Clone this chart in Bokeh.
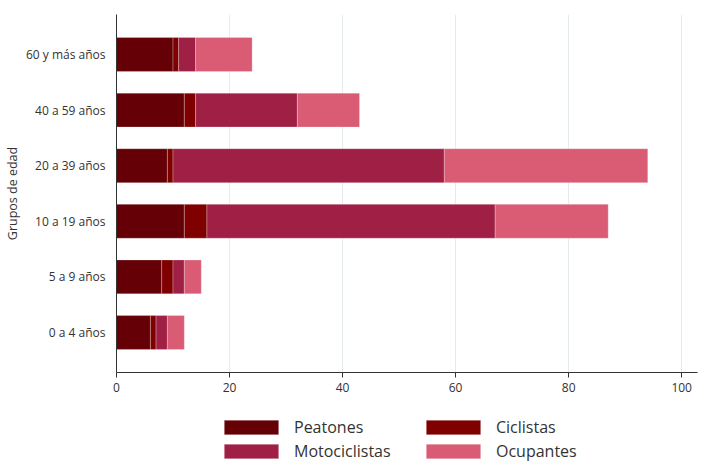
from bokeh.plotting import figure
from bokeh.layouts import column
from bokeh.models import FactorRange, Range1d, Legend, LegendItem, ColumnDataSource
from bokeh.embed import file_html
from bokeh.resources import INLINE

grupos = ["0 a 4 años", "5 a 9 años", "10 a 19 años", "20 a 39 años", "40 a 59 años", "60 y más años"]
peatones = [6, 8, 12, 9, 12, 10]
ciclistas = [1, 2, 4, 1, 2, 1]
motociclistas = [2, 2, 51, 48, 18, 3]
ocupantes = [3, 3, 20, 36, 11, 10]
series = ["Peatones", "Ciclistas", "Motociclistas", "Ocupantes"]
colores = ["#640006", "#800000", "#a01f45", "#d95b74"]
x_ticks = [0, 20, 40, 60, 80, 100]

FONT = "Open Sans"
TXT = "#333333"

src = ColumnDataSource(dict(grupo=grupos, Peatones=peatones, Ciclistas=ciclistas,
                            Motociclistas=motociclistas, Ocupantes=ocupantes))

p = figure(width=704, height=400, output_backend="svg", toolbar_location=None,
           y_range=FactorRange(factors=grupos, range_padding=0.073, range_padding_units="percent"),
           x_range=Range1d(0, 102.8),
           min_border_left=108, min_border_top=14, min_border_right=7, min_border_bottom=28)

rs = p.hbar_stack(series, y="grupo", height=0.61, color=colores, source=src,
                  line_color="white", line_alpha=0.25, line_width=1)

p.outline_line_color = None
p.background_fill_color = "white"
p.border_fill_color = "white"

p.ygrid.grid_line_color = None
p.xgrid.grid_line_color = "#e4ecee"
p.xgrid.grid_line_width = 1
p.xaxis.ticker = x_ticks

for ax in (p.xaxis[0], p.yaxis[0]):
    ax.axis_line_color = TXT
    ax.major_label_text_font = FONT
    ax.major_label_text_color = TXT
    ax.major_label_text_font_size = "12px"
    ax.minor_tick_line_color = None

p.xaxis.major_tick_line_color = TXT
p.xaxis.major_tick_out = 5
p.xaxis.major_tick_in = 0
p.xaxis.major_label_standoff = 5

p.yaxis.major_tick_line_color = None
p.yaxis.major_label_standoff = 5
p.yaxis.axis_label = "Grupos de edad"
p.yaxis.axis_label_text_font = FONT
p.yaxis.axis_label_text_font_style = "normal"
p.yaxis.axis_label_text_font_size = "12.5px"
p.yaxis.axis_label_text_color = TXT
p.yaxis.axis_label_standoff = 2

# legend panel: same data, but its y range holds no category, so only the legend shows
lg = figure(width=704, height=63, output_backend="svg", toolbar_location=None,
            x_range=Range1d(0, 1), y_range=FactorRange(factors=["leyenda"]),
            min_border_left=0, min_border_top=0, min_border_right=0, min_border_bottom=0)
lg.axis.visible = False
lg.grid.visible = False
lg.outline_line_color = None
swatches = lg.hbar_stack(series, y="grupo", height=0.61, color=colores, source=src,
                         line_color="white", line_alpha=0.25, line_width=1)
order = [0, 2, 1, 3]
items = [LegendItem(label=series[i], renderers=[swatches[i]]) for i in order]
legend = Legend(items=items, ncols=2, location=(101, 1),
                glyph_width=68, glyph_height=18, label_standoff=9, spacing=2,
                label_width=123, label_text_font=FONT, label_text_font_size="16px",
                label_text_color=TXT, padding=0, margin=0, border_line_color=None,
                background_fill_alpha=0)
lg.add_layout(legend, "center")

open("out.html", "w").write(file_html(column(p, lg, spacing=0), INLINE))
